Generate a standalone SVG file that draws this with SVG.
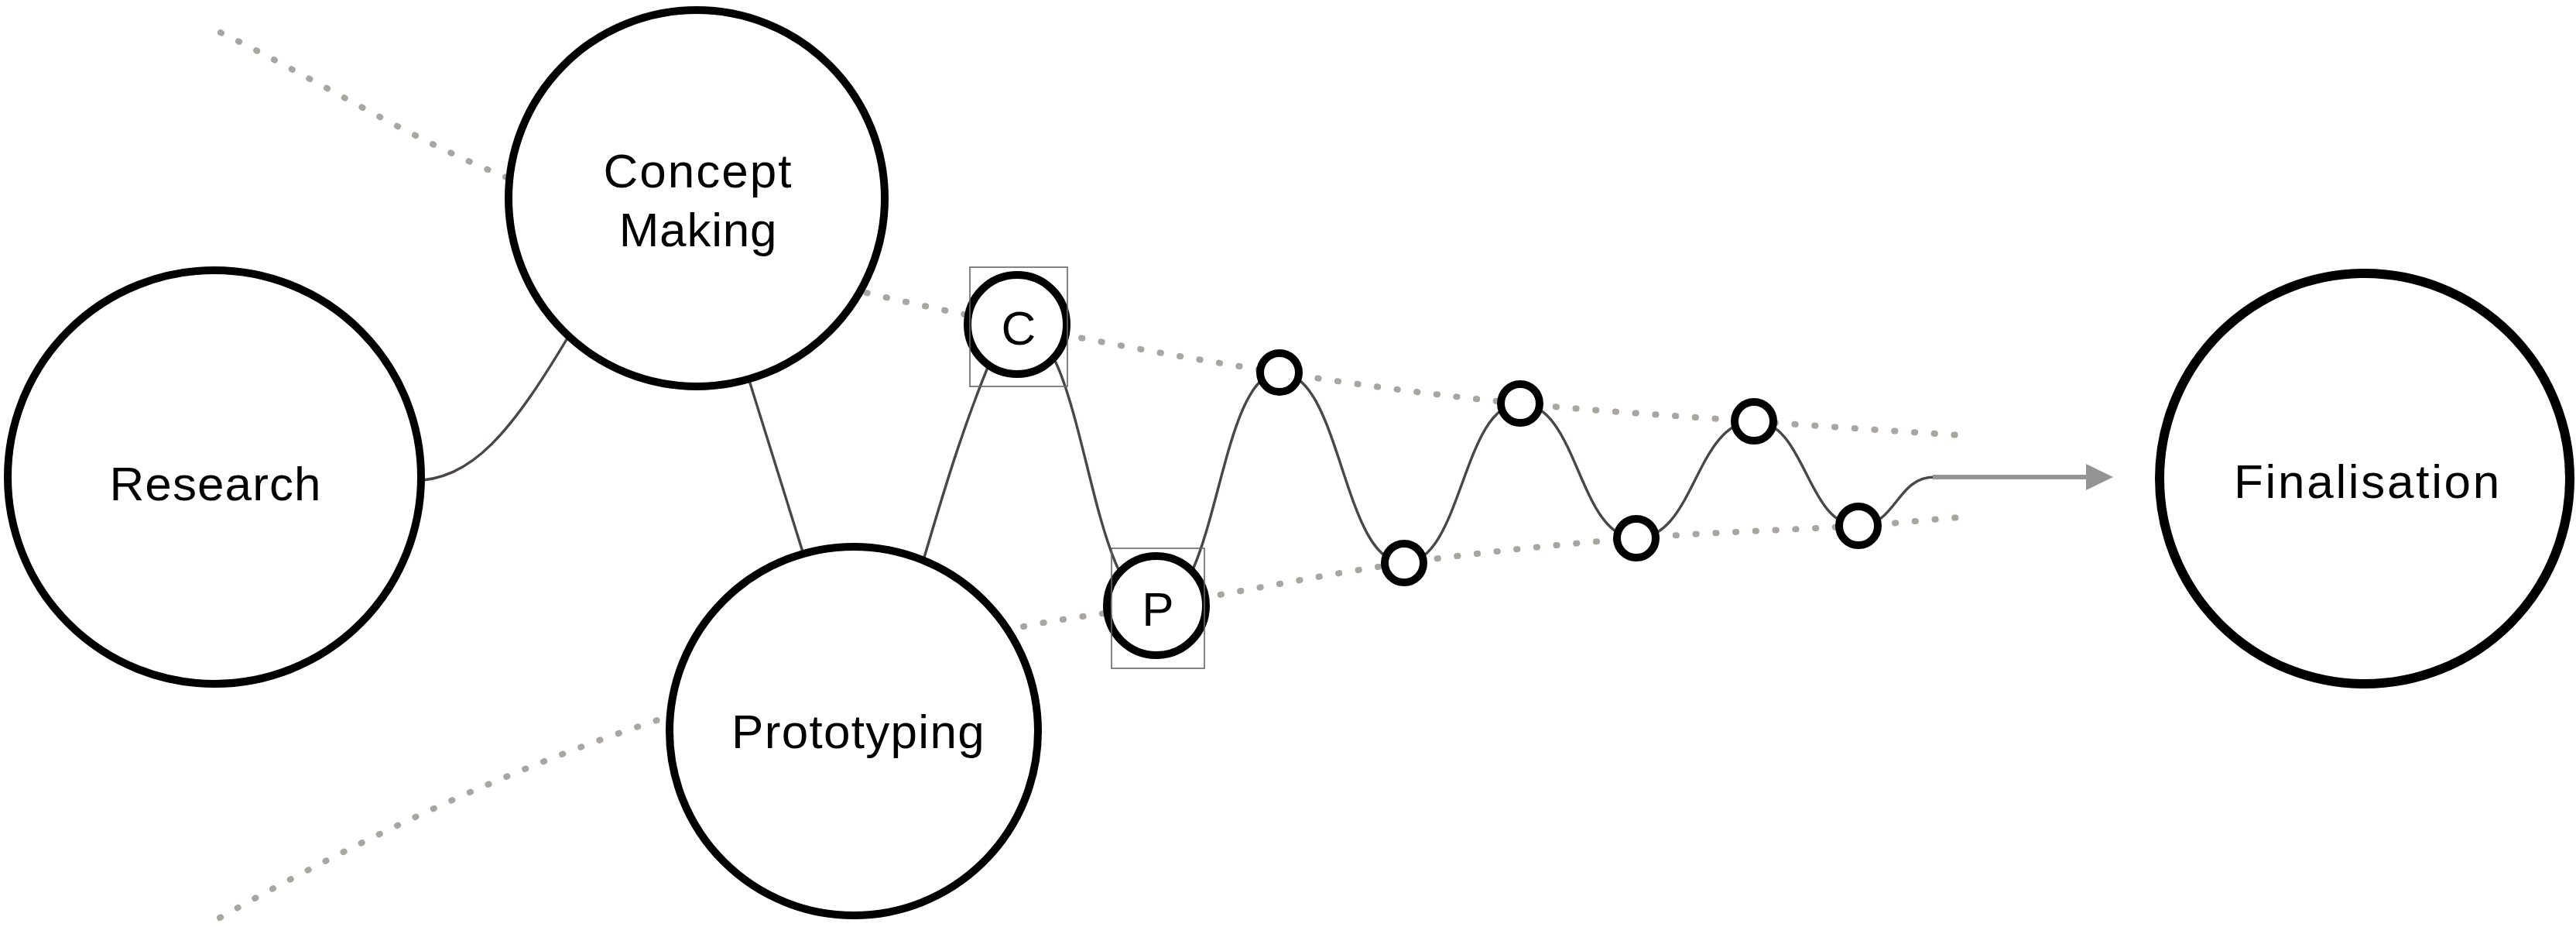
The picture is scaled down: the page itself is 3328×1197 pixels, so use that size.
<svg xmlns="http://www.w3.org/2000/svg" width="3328" height="1197" viewBox="0 0 3328 1197">
<defs>
<style>
.dots{fill:none;stroke:#a9a5a1;stroke-width:8;stroke-linecap:round;stroke-dasharray:1.2 24.6}
.conn{fill:none;stroke:#4b4644;stroke-width:3.4}
.node{fill:#fff;stroke:#000;stroke-width:10}
.big{fill:#fff;stroke:#000;stroke-width:12}
.box{fill:none;stroke:#666;stroke-width:1.6}
.lbl{font-family:"Liberation Sans",Arial,Helvetica,sans-serif;font-size:62px;fill:#000;text-anchor:middle}
.arrow{fill:none;stroke:#949494;stroke-width:6}
</style>
<marker id="ah" viewBox="0 0 35 34" markerWidth="35" markerHeight="34" refX="0" refY="17" markerUnits="userSpaceOnUse" orient="auto">
<path d="M0,0 L35,17 L0,34 z" fill="#949494"/>
</marker>
</defs>
<rect width="3328" height="1197" fill="#fff"/>
<g id="guides">
<path class="dots" d="M285 42 C405 100, 529 179, 652 228 C809 291, 966 341, 1123 379 C1187 394, 1250 407, 1314 420 C1427 443, 1540 464, 1653 481 C1757 497, 1860 511, 1964 521 C2065 531, 2165 537, 2266 544 C2360 551, 2454 557, 2548 563"/>
<path class="dots" d="M284 1185 C470 1081, 658 993, 846 931 C1006 878, 1167 840, 1327 808 C1383 797, 1438 791, 1494 782 C1601 765, 1707 742, 1814 727 C1914 713, 2014 703, 2114 695 C2210 687, 2305 685, 2401 679 C2450 676, 2499 670, 2548 667"/>
</g>
<g id="connectors">
<path class="conn" d="M530 621 C610 621, 660 560, 740 425"/>
<path class="conn" d="M960 466 L1045 738"/>
<path class="conn" d="M1190 733 C1215 650, 1240 560, 1282 460"/>
<path class="conn" d="M1314 419 C1404 419, 1404 782, 1494 782"/>
<path class="conn" d="M1494 782 C1573.5 782, 1573.5 481, 1653 481"/>
<path class="conn" d="M1653 481 C1733.5 481, 1733.5 727, 1814 727"/>
<path class="conn" d="M1814 727 C1889 727, 1889 521, 1964 521"/>
<path class="conn" d="M1964 521 C2039 521, 2039 695, 2114 695"/>
<path class="conn" d="M2114 695 C2190 695, 2190 544, 2266 544"/>
<path class="conn" d="M2266 544 C2333.5 544, 2333.5 679, 2401 679"/>
<path class="conn" d="M2401 679 C2450 679, 2450 616, 2499 616"/>
<path class="arrow" d="M2497 616 L2695 616" marker-end="url(#ah)"/>
</g>
<g id="research">
<circle class="node" cx="277" cy="616" r="267"/>
<text class="lbl" x="278.5" y="646" letter-spacing="1.1">Research</text>
</g>
<g id="concept">
<circle class="node" cx="900" cy="256" r="243"/>
<text class="lbl" x="902" y="242" letter-spacing="2">Concept</text>
<text class="lbl" x="902" y="318" letter-spacing="0.8">Making</text>
</g>
<g id="prototyping">
<circle class="node" cx="1103" cy="944" r="238"/>
<text class="lbl" x="1109" y="966" letter-spacing="1.3">Prototyping</text>
</g>
<g id="finalisation">
<circle class="big" cx="3055" cy="618" r="265"/>
<text class="lbl" x="3059" y="643" letter-spacing="2.7">Finalisation</text>
</g>
<g id="c-node">
<circle class="node" cx="1314" cy="419" r="64"/>
<rect class="box" x="1253" y="345" width="126" height="154"/>
<text class="lbl" x="1316" y="445">C</text>
</g>
<g id="p-node">
<circle class="node" cx="1494" cy="782" r="64"/>
<rect class="box" x="1436" y="708" width="120" height="155"/>
<text class="lbl" x="1496" y="808">P</text>
</g>
<g id="step1"><circle class="node" cx="1653" cy="481" r="25"/></g>
<g id="step2"><circle class="node" cx="1814" cy="727" r="25"/></g>
<g id="step3"><circle class="node" cx="1964" cy="521" r="25"/></g>
<g id="step4"><circle class="node" cx="2114" cy="695" r="25"/></g>
<g id="step5"><circle class="node" cx="2266" cy="544" r="25"/></g>
<g id="step6"><circle class="node" cx="2401" cy="679" r="25"/></g>
</svg>
